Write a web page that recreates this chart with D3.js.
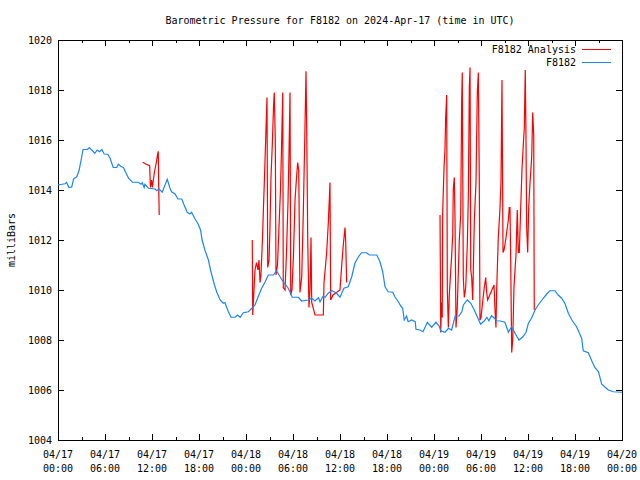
<!DOCTYPE html>
<html>
<head>
<meta charset="utf-8">
<script src="https://cdn.jsdelivr.net/npm/d3@7"></script>
<style>
  html, body { margin: 0; padding: 0; background: #fff; }
  svg { display: block; }
  text { font-family: "DejaVu Sans Mono", "Liberation Mono", monospace; font-size: 10px; fill: #000; }
</style>
</head>
<body>
<svg id="chart" width="640" height="480"></svg>
<script>
// ---------------- data ----------------
const title = "Barometric Pressure for F8182 on 2024-Apr-17 (time in UTC)";
const yLabel = "milliBars";
const seriesNames = ["F8182 Analysis", "F8182"];
const startTime = "2024-04-17T00:00:00Z";
const endTime = "2024-04-20T00:00:00Z";
const yTicks = [1004, 1006, 1008, 1010, 1012, 1014, 1016, 1018, 1020];

// F8182 observed (hours since start, mb)
const obsHours = [0, 0.9, 1.1, 1.4, 1.75, 2.0, 2.4, 2.7, 2.95, 3.2, 3.75, 4.0, 4.7, 5.0, 5.3, 5.6, 5.9, 6.35, 6.65, 7.05,
  7.5, 7.7, 8.0, 8.35, 8.7, 9.0, 9.5, 10.25, 10.6, 10.75, 11.0, 11.1, 11.55, 12.4, 12.6, 12.9, 13.3, 13.95, 14.3, 14.5,
  14.95, 15.3, 15.8, 16.1, 16.5, 16.85, 17.05, 17.5, 17.9, 18.2, 18.4, 18.75, 19.2, 19.5, 19.95, 20.25, 20.7, 21.1, 21.3, 21.75,
  22.1, 22.6, 22.9, 23.25, 23.65, 24.3, 24.75, 25.15, 25.55, 26.0, 26.45, 26.85, 27.5, 27.9, 28.35, 28.75, 29.4, 29.9, 30.7, 31.1,
  31.95, 32.4, 32.8, 33.25, 33.45, 33.85, 34.1, 34.5, 34.95, 35.5, 36.0, 36.5, 37.05, 37.5, 37.9, 38.35, 38.75, 39.4, 39.75, 40.7,
  41.1, 41.45, 41.75, 42.15, 42.75, 43.0, 43.45, 43.75, 44.0, 44.2, 44.5, 44.7, 45.15, 45.6, 45.7, 46.2, 46.6, 47.15, 47.7, 48.25,
  48.65, 48.85, 49.4, 49.85, 50.25, 50.7, 51.2, 51.55, 51.75, 52.25, 52.7, 53.1, 53.55, 53.95, 54.4, 54.75, 55.0, 55.35, 55.65, 56.0,
  56.45, 57.05, 57.5, 57.9, 58.35, 58.85, 59.35, 59.75, 60.05, 60.45, 60.9, 61.3, 61.95, 62.4, 62.8, 63.45, 63.85, 64.3, 64.7, 65.15,
  65.6, 66.2, 66.85, 67.05, 67.7, 68.15, 68.55, 69.0, 69.4, 69.85, 70.25, 70.9, 72.0];
const obsPressure = [1014.2, 1014.25, 1014.3, 1014.1, 1014.12, 1014.45, 1014.53, 1014.8, 1015.2, 1015.62, 1015.62, 1015.7, 1015.47, 1015.6, 1015.53, 1015.62, 1015.44, 1015.43, 1015.27, 1014.9,
  1014.9, 1015.03, 1014.95, 1014.9, 1014.67, 1014.47, 1014.31, 1014.31, 1014.23, 1014.29, 1014.1, 1014.23, 1014.07, 1014.04, 1013.97, 1014.04, 1013.91, 1014.43, 1014.07, 1013.93,
  1013.84, 1013.64, 1013.64, 1013.4, 1013.11, 1013.04, 1013.11, 1012.84, 1012.63, 1012.4, 1012.0, 1011.6, 1011.2, 1010.76, 1010.23, 1009.93, 1009.6, 1009.47, 1009.5, 1009.13,
  1008.91, 1008.91, 1009.0, 1008.91, 1009.09, 1009.13, 1009.27, 1009.4, 1009.73, 1010.07, 1010.33, 1010.6, 1010.6, 1010.77, 1010.53, 1010.33, 1010.07, 1009.71, 1009.71, 1009.56,
  1009.6, 1009.67, 1009.56, 1009.69, 1009.53, 1009.76, 1009.71, 1009.87, 1009.97, 1009.89, 1009.71, 1010.07, 1010.13, 1010.53, 1011.07, 1011.33, 1011.49, 1011.49, 1011.4, 1011.4,
  1011.13, 1010.73, 1010.13, 1009.93, 1009.91, 1009.73, 1009.53, 1009.36, 1009.27, 1008.8, 1008.96, 1008.73, 1008.8, 1008.73, 1008.43, 1008.4, 1008.33, 1008.71, 1008.51, 1008.71,
  1008.57, 1008.37, 1008.31, 1008.47, 1008.4, 1008.96, 1008.96, 1009.13, 1009.4, 1009.6, 1009.47, 1009.23, 1008.91, 1008.63, 1008.76, 1008.91, 1008.77, 1008.97, 1008.89, 1008.77,
  1008.76, 1008.71, 1008.31, 1008.53, 1008.27, 1008.0, 1008.13, 1008.31, 1008.67, 1008.87, 1009.2, 1009.4, 1009.67, 1009.84, 1009.97, 1009.97, 1009.8, 1009.67, 1009.47, 1009.07,
  1008.8, 1008.53, 1008.07, 1007.57, 1007.49, 1007.16, 1006.89, 1006.73, 1006.24, 1006.11, 1006.0, 1005.93, 1005.91];

// F8182 Analysis (hours since start, mb); null = gap between analysis runs
const anaHours = [10.81, 11.2, 11.7, 11.8, 11.95, 12.05, 12.3, 12.55, 12.7, 12.8, 12.85, 12.92, 18.0,
  24.80, 24.86, 25.02, 25.15, 25.34, 25.53, 25.66, 25.79, 25.91, 26.11, 26.23, 26.36, 26.49, 26.68, 26.77, 26.94, 27.06, 27.19,
  27.38, 27.51, 27.61, 27.74, 27.83, 28.02, 28.21, 28.40, 28.53, 28.69, 28.76, 28.98, 29.17, 29.36, 29.49, 29.62, 29.71, 29.87,
  30.06, 30.26, 30.45, 30.60, 30.73, 30.89, 31.11, 31.31, 31.53, 31.66, 31.75, 31.88, 32.04, 32.17, 32.30, 32.39, 32.81, 33.87,
  33.96, 34.30, 34.51, 34.66, 34.72, 34.81, 35.11, 36.00, 36.22, 36.42, 36.64, 36.73, 36.85, 42.0,
  48.77, 48.86, 48.96, 49.05, 49.11, 49.28, 49.40, 49.49, 49.62, 49.70, 49.83, 49.95, 50.26, 50.39, 50.46, 50.59, 50.68, 50.81,
  50.97, 51.23, 51.41, 51.54, 51.61, 51.74, 51.87, 52.05, 52.25, 52.38, 52.51, 52.60, 52.69, 52.81, 52.94, 53.15, 53.36, 53.53,
  53.66, 53.78, 53.87, 54.00, 54.17, 54.38, 54.60, 54.73, 54.85, 55.66, 55.79, 55.91, 56.00, 56.21, 56.43, 56.55, 56.68, 56.81,
  56.94, 57.15, 57.36, 57.49, 57.61, 57.70, 57.79, 57.92, 58.05, 58.21, 58.34, 58.47, 58.63, 58.76, 58.89, 59.07, 59.23, 59.40,
  59.53, 59.65, 59.74, 59.83, 59.96, 60.09, 60.26, 60.47, 60.60, 60.73, 60.80];
const anaPressure = [1015.11, 1015.04, 1014.97, 1014.1, 1014.4, 1014.1, 1014.7, 1015.1, 1015.4, 1015.55, 1014.3, 1013.0, null,
  1012.0, 1009.0, 1010.0, 1010.8, 1011.1, 1010.8, 1011.2, 1010.3, 1010.6, 1012.1, 1013.3, 1014.5, 1015.8, 1017.7, 1010.9, 1011.2, 1012.5, 1014.5,
  1016.0, 1017.3, 1017.9, 1016.0, 1010.6, 1011.0, 1012.5, 1014.0, 1015.6, 1017.9, 1010.1, 1010.0, 1011.5, 1013.5, 1015.5, 1017.9, 1009.8, 1010.0,
  1011.4, 1013.6, 1014.5, 1015.1, 1014.8, 1009.9, 1010.5, 1013.0, 1016.5, 1018.75, 1016.5, 1012.0, 1009.3, 1010.0, 1012.1, 1009.5, 1009.0, 1009.0,
  1010.3, 1011.5, 1012.7, 1013.8, 1014.3, 1009.6, 1009.8, 1010.0, 1011.0, 1011.8, 1012.5, 1011.9, 1010.3, null,
  1013.0, 1008.3, 1009.5, 1008.9, 1013.1, 1014.9, 1015.6, 1016.9, 1017.8, 1010.0, 1008.5, 1009.8, 1011.4, 1012.2, 1014.0, 1014.5, 1012.9, 1008.5,
  1009.3, 1012.0, 1013.0, 1017.7, 1018.7, 1010.5, 1009.7, 1010.1, 1011.8, 1013.7, 1018.1, 1018.9, 1010.8, 1010.5, 1009.6, 1012.8, 1014.3, 1017.9,
  1018.7, 1014.5, 1008.8, 1008.9, 1009.4, 1010.0, 1010.5, 1009.9, 1009.6, 1010.2, 1009.2, 1008.5, 1010.0, 1012.1, 1013.3, 1014.3, 1018.4, 1011.5,
  1011.6, 1012.0, 1012.5, 1012.8, 1013.3, 1013.3, 1011.2, 1007.5, 1008.0, 1010.1, 1010.8, 1011.4, 1013.2, 1011.5, 1011.5, 1013.3, 1014.8, 1015.8,
  1016.5, 1018.8, 1016.2, 1012.5, 1011.5, 1013.3, 1014.3, 1015.3, 1017.1, 1016.2, 1009.2];

// ---------------- chart ----------------
const svg = d3.select("#chart");
const m = { left: 58, right: 622, top: 40, bottom: 440 };
const t0 = new Date(startTime), t1 = new Date(endTime);
const toDate = h => new Date(t0.getTime() + h * 3600e3);

const x = d3.scaleUtc().domain([t0, t1]).range([m.left, m.right]);
const y = d3.scaleLinear().domain([1004, 1020]).range([m.bottom, m.top]);

const obs = obsHours.map((h, i) => ({ t: toDate(h), v: obsPressure[i] }));
const ana = anaHours.map((h, i) => ({ t: toDate(h), v: anaPressure[i] }));

const majorX = d3.utcHour.every(6).range(t0, new Date(t1.getTime() + 1));
const minorX = d3.utcHour.every(3).range(t0, new Date(t1.getTime() + 1)).filter(d => d.getUTCHours() % 6 !== 0);

// axes (bottom / top mirrored, left / right mirrored)
const fmtD = d3.utcFormat("%m/%d"), fmtT = d3.utcFormat("%H:%M");
const gx = svg.append("g").attr("transform", `translate(0,${m.bottom})`)
  .call(d3.axisBottom(x).tickValues(majorX).tickSize(-6).tickFormat(""));
const gxMinor = svg.append("g").attr("transform", `translate(0,${m.bottom})`)
  .call(d3.axisBottom(x).tickValues(minorX).tickSize(-3).tickFormat(""));
const gxTop = svg.append("g").attr("transform", `translate(0,${m.top})`)
  .call(d3.axisTop(x).tickValues(majorX).tickSize(-6).tickFormat(""));
const gxTopMinor = svg.append("g").attr("transform", `translate(0,${m.top})`)
  .call(d3.axisTop(x).tickValues(minorX).tickSize(-3).tickFormat(""));
const gy = svg.append("g").attr("transform", `translate(${m.left},0)`)
  .call(d3.axisLeft(y).tickValues(yTicks).tickSize(-6).tickFormat(d3.format("d")));
const gyR = svg.append("g").attr("transform", `translate(${m.right},0)`)
  .call(d3.axisRight(y).tickValues(yTicks).tickSize(-6).tickFormat(""));

[gx, gxMinor, gxTop, gxTopMinor, gy, gyR].forEach(g => {
  g.select(".domain").remove();
  g.selectAll("line").attr("stroke", "#000").attr("shape-rendering", "crispEdges");
});
gy.selectAll("text").attr("x", -6).attr("dy", "0.35em")
  .style("font-family", "DejaVu Sans Mono").style("font-size", "10px");

// two-line x labels
const xl = svg.append("g");
majorX.forEach(d => {
  const tx = xl.append("text").attr("x", x(d)).attr("text-anchor", "middle");
  tx.append("tspan").attr("x", x(d)).attr("y", 458).text(fmtD(d));
  tx.append("tspan").attr("x", x(d)).attr("y", 472).text(fmtT(d));
});

// border
svg.append("rect").attr("x", m.left + 0.5).attr("y", m.top + 0.5)
  .attr("width", m.right - m.left).attr("height", m.bottom - m.top)
  .attr("fill", "none").attr("stroke", "#000").attr("shape-rendering", "crispEdges");

// series
const line = d3.line().defined(d => d.v !== null).x(d => x(d.t)).y(d => y(d.v));
const colors = ["#ff0000", "#1a86f0"];
svg.append("path").datum(ana).attr("d", line).attr("fill", "none")
  .attr("stroke", colors[0]).attr("stroke-width", 1.2);
svg.append("path").datum(obs).attr("d", line).attr("fill", "none")
  .attr("stroke", colors[1]).attr("stroke-width", 1.2);

// title and y label
svg.append("text").attr("x", 340).attr("y", 24).attr("text-anchor", "middle").text(title);
svg.append("text").attr("transform", "translate(15,240) rotate(-90)").attr("text-anchor", "middle").text(yLabel);

// legend
seriesNames.forEach((name, i) => {
  const ly = 49 + i * 13;
  svg.append("text").attr("x", 576).attr("y", ly + 3.5).attr("text-anchor", "end").text(name);
  svg.append("line").attr("x1", 582).attr("x2", 611).attr("y1", ly + 0.5).attr("y2", ly + 0.5)
    .attr("stroke", colors[i]).attr("stroke-width", 1);
});
</script>
</body>
</html>
